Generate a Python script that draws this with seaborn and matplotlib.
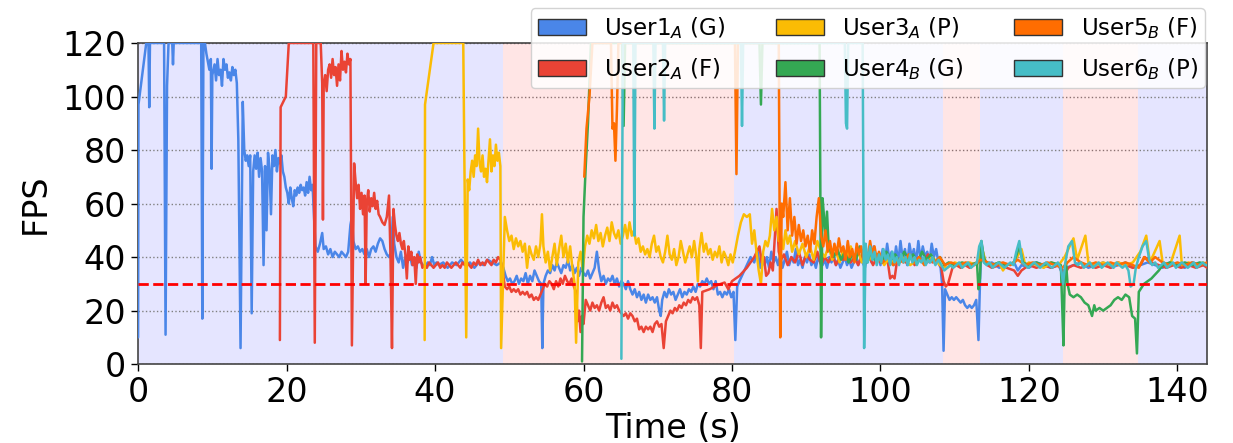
import numpy as np
import pandas as pd
import matplotlib
matplotlib.use("Agg")
import matplotlib.pyplot as plt
from matplotlib.patches import Patch
import seaborn as sns

# ---------------- data (time s, FPS) ----------------
USER1 = [(0.0,10),(0.05,97),(1.1,120),(1.4,120),(1.5,96),(1.6,120),(3.5,120),(3.7,11),(3.9,104),(4.1,120),
 (4.6,120),(4.7,112),(4.8,120),(8.5,120),(8.65,17),(8.8,120),(9.0,120),(9.2,116),(9.4,113),(9.6,110),(9.8,114),
 (9.9,73),(10.0,108),(10.3,112),(10.5,106),(10.7,114),(10.9,108),(11.1,110),(11.3,104),(11.5,114),(11.7,110),
 (11.9,112),(12.1,107),(12.3,109),(12.5,106),(12.7,111),(12.9,108),(13.1,110),(13.3,105),(13.5,84),(13.8,6),
 (14.1,98),(14.3,80),(14.5,76),(14.7,78),(14.9,74),(15.1,78),(15.3,19),(15.5,72),(15.7,78),(15.9,73),(16.1,79),
 (16.3,70),(16.5,77),(16.7,72),(16.9,37),(17.1,74),(17.3,50),(17.5,79),(17.7,73),(17.9,56),(18.1,78),(18.3,74),
 (18.5,80),(18.7,72),(18.9,77),(19.1,75),(19.3,78),(19.5,72),(19.7,70),(19.9,66),(20.1,64),(20.3,60),(20.5,66),
 (20.7,62),(20.9,59),(21.1,65),(21.3,63),(21.5,66),(21.7,64),(21.9,67),(22.1,65),(22.3,66),(22.5,63),(22.7,68),
 (22.9,64),(23.1,70),(23.3,65),(23.5,67),(23.7,55),(23.9,44),(24.2,42),(24.5,45),(24.8,49),(25.0,43),(25.3,44),
 (25.6,41),(25.9,43),(26.2,40),(26.5,42),(26.8,41),(27.1,40),(27.4,42),(27.7,41),(28.0,40),(28.3,42),(28.6,52),
 (28.8,55),(29.0,46),(29.3,43),(29.6,44),(29.9,42),(30.2,43),(30.5,41),(30.8,43),(31.1,40),(31.4,43),(31.7,44),
 (32.0,42),(32.3,45),(32.6,47),(32.9,46),(33.2,43),(33.5,41),(33.8,40),(34.1,42),(34.3,55),(34.5,45),(34.8,40),
 (35.1,38),(35.4,42),(35.7,36),(36.0,40),(36.3,38),(36.6,41),(36.9,37),(37.2,39),(37.5,36),(37.8,42),(38.1,38),
 (38.4,37),(38.7,36),(39.0,38),(39.3,37),(39.6,40),(39.9,37),(40.2,38),(40.5,37),(41.1,38),(41.7,36),(42.3,38),
 (42.9,37),(43.5,39),(44.1,37),(44.7,38),(45.3,36),(45.9,38),(46.5,37),(47.1,39),(47.7,38),(48.3,37),(48.9,38),
 (49.2,36),(49.5,33),(49.8,31),(50.1,32),(50.4,30),(50.7,31),(51.0,33),(51.3,30),(51.6,32),(51.9,31),(52.2,34),
 (52.5,30),(52.8,33),(53.1,31),(53.4,35),(53.7,33),(54.0,31),(54.3,30),(54.45,6),(54.6,30),(54.9,33),(55.2,35),
 (55.5,34),(55.8,37),(56.1,35),(56.4,38),(56.7,36),(57.0,34),(57.3,37),(57.6,36),(57.9,39),(58.2,35),(58.5,37),
 (58.8,34),(59.1,36),(59.4,33),(59.7,36),(60.0,34),(60.3,33),(60.6,35),(60.9,32),(61.2,34),(61.5,36),(61.8,42),
 (62.1,35),(62.4,31),(62.7,33),(63.0,30),(63.3,32),(63.6,31),(63.9,33),(64.2,30),(64.5,32),(64.8,29),(65.1,31),
 (65.4,30),(65.7,28),(66.0,31),(66.3,28),(66.6,26),(66.9,28),(67.2,25),(67.5,27),(67.8,24),(68.1,26),(68.4,23),
 (68.7,26),(69.0,24),(69.3,25),(69.6,23),(69.9,25),(70.2,20),(70.4,18),(70.6,24),(70.9,27),(71.2,25),(71.5,28),
 (71.8,26),(72.1,27),(72.4,24),(72.7,26),(73.0,28),(73.3,25),(73.6,27),(73.9,26),(74.2,28),(74.5,27),(74.8,29),
 (75.1,27),(75.4,30),(75.7,29),(76.0,31),(76.3,30),(76.6,32),(76.9,30),(77.2,31),(77.5,28),(77.8,31),(78.1,26),
 (78.4,27),(78.7,25),(79.0,27),(79.3,26),(79.6,28),(79.9,25),(80.2,27),(80.45,9),(80.7,29),(81.0,31),(81.5,34),
 (82.0,37),(82.5,40),(83.0,38),(83.4,43),(83.8,36),(84.1,41),(84.4,37),(84.7,40),(85.0,36),(85.3,42),(85.6,38),
 (85.9,40),(86.2,37),(86.5,41),(86.8,36),(87.1,39),(87.4,42),(87.7,37),(88.0,40),(88.3,38),(88.6,43),(88.9,37),
 (89.2,39),(89.5,36),(89.8,40),(90.1,38),(90.4,41),(90.7,37),(91.0,39),(91.3,36),(91.6,40),(91.9,38),(92.2,37),
 (92.5,39),(92.8,36),(93.1,40),(93.4,38),(93.7,41),(94.0,37),(94.3,39),(94.6,36),(94.9,38),(95.2,40),(95.5,37),
 (95.8,39),(96.1,36),(96.4,38),(96.7,41),(97.0,37),(97.3,39),(97.6,38),(97.9,36),(98.2,40),(98.5,42),(98.8,38),
 (99.1,44),(99.4,39),(99.7,41),(100.0,37),(100.3,43),(100.6,38),(100.9,45),(101.2,39),(101.5,42),(101.8,37),
 (102.1,44),(102.4,38),(102.7,46),(103.0,39),(103.3,43),(103.6,37),(103.9,45),(104.2,40),(104.5,43),(104.8,38),
 (105.1,46),(105.4,39),(105.7,44),(106.0,40),(106.3,42),(106.6,38),(106.9,45),(107.2,40),(107.5,43),(107.8,38),
 (108.1,36),(108.3,30),(108.5,5),(108.7,28),(109.0,26),(109.3,24),(109.6,25),(109.9,24),(110.2,25),(110.5,24),
 (110.8,23),(111.1,24),(111.4,22),(111.7,21),(112.0,22),(112.3,21),(112.6,22),(112.9,24),(113.2,9),(113.4,30),
 (113.6,45),(113.8,42),(114.1,38),(114.4,37),(115,38),(116,36),(117,37),(118,38),(118.5,35),(119,37),(120,36),
 (121,38),(122,37),(123,36),(124,37),(124.6,33),(125,36),(126,37),(127,38),(128,36),(129,37),(130,38),(131,36),
 (132,37),(133,38),(134,36),(135,37),(136,38),(137,37),(138,36),(139,38),(140,37),(141,36),(142,38),(143,37),(144,37)]

USER2 = [(19.1,9),(19.2,96),(19.9,100),(20.3,120),(23.6,120),(23.8,8),(24.0,120),(24.6,120),(24.8,105),(24.9,54),
 (25.0,104),(25.2,108),(25.4,102),(25.6,110),(25.8,112),(26.0,107),(26.2,114),(26.4,108),(26.6,111),(26.8,104),
 (27.0,112),(27.2,106),(27.4,117),(27.6,110),(27.8,113),(28.0,109),(28.2,116),(28.4,112),(28.6,114),(28.8,7),
 (29.1,75),(29.3,68),(29.5,62),(29.7,67),(29.9,58),(30.1,64),(30.3,56),(30.5,63),(30.65,30),(30.8,60),(31.0,65),
 (31.2,57),(31.4,62),(31.6,59),(31.8,64),(32.0,58),(32.2,61),(32.4,56),(32.6,55),(32.9,53),(33.2,52),(33.5,55),
 (33.8,63),(34.0,40),(34.2,6),(34.4,58),(34.6,52),(34.8,48),(35.0,46),(35.2,49),(35.4,45),(35.6,43),(35.8,46),
 (36.0,41),(36.2,32),(36.4,44),(36.6,39),(36.8,42),(37.0,37),(37.2,40),(37.4,30),(37.6,41),(37.8,38),(38.0,40),
 (38.3,36),(38.6,37),(38.9,36),(39.2,38),(39.5,37),(39.8,36),(40.1,37),(40.4,38),(40.7,36),(41.0,37),(41.3,36),
 (41.6,38),(41.9,37),(42.2,36),(42.5,37),(42.8,38),(43.1,37),(43.4,36),(43.7,38),(44.0,37),(44.3,38),(44.6,37),
 (44.9,36),(45.2,38),(45.5,37),(45.8,39),(46.1,37),(46.4,38),(46.7,37),(47.0,39),(47.3,38),(47.6,37),(47.9,39),
 (48.2,38),(48.5,40),(48.8,39),(49.1,35),(49.4,29),(49.7,28),(50.0,29),(50.3,27),(50.6,28),(50.9,27),(51.2,28),
 (51.5,26),(51.8,27),(52.1,26),(52.4,27),(52.7,25),(53.0,26),(53.3,24),(53.6,25),(53.9,24),(54.2,26),(54.5,28),
 (54.8,30),(55.1,29),(55.4,31),(55.7,30),(56.0,28),(56.3,31),(56.6,29),(56.9,32),(57.2,30),(57.5,33),(57.8,31),
 (58.1,30),(58.4,32),(58.7,29),(59.0,27),(59.2,16),(59.4,20),(59.6,12),(59.8,18),(60.0,15),(60.3,24),(60.6,22),
 (60.9,20),(61.2,23),(61.5,21),(61.8,22),(62.1,20),(62.4,23),(62.7,25),(63.0,21),(63.3,22),(63.6,20),(63.9,23),
 (64.2,21),(64.5,22),(64.8,20),(65.1,19),(65.4,18),(65.7,19),(66.0,17),(66.3,19),(66.6,18),(66.9,16),(67.2,17),
 (67.5,13),(67.8,14),(68.1,12),(68.4,14),(68.7,13),(69.0,14),(69.3,12),(69.6,15),(69.9,16),(70.2,14),(70.5,15),
 (70.8,6),(71.1,16),(71.4,18),(71.7,20),(72.0,19),(72.3,21),(72.6,20),(72.9,22),(73.2,21),(73.5,23),(73.8,22),
 (74.1,24),(74.4,23),(74.7,25),(75.0,24),(75.3,25),(75.6,22),(75.8,6),(76.0,27),(77.0,28),(78.0,29.5),(79.0,30.5),
 (79.5,28),(80.0,31),(80.5,32),(81.0,33),(82.0,36),(83.0,40),(83.7,44),(84.0,38),(84.3,40),(84.6,33),(84.9,34),
 (85.2,38),(85.5,35),(86.0,58),(86.3,42),(86.6,39),(87.0,41),(87.5,37),(88.0,40),(88.5,38),(89.0,42),(89.5,37),
 (90.0,41),(90.5,39),(91.0,38),(91.5,42),(92.0,37),(92.5,40),(93.0,38),(93.5,41),(94.0,37),(94.5,40),(95.0,39),
 (95.5,42),(96.0,38),(96.5,40),(97.0,37),(97.5,41),(98.0,38),(98.5,40),(99.0,37),(99.5,40),(100.0,38),(100.5,39),
 (101.0,38),(101.3,32),(101.6,33),(101.9,32),(102.2,38),(102.8,40),(103.4,38),(104.0,41),(104.6,37),(105.2,40),
 (105.8,38),(106.4,41),(107.0,38),(107.6,39),(108.2,36),(108.5,31),(108.8,29),(109.1,30),(109.4,33),(109.7,36),
 (110.2,37),(110.8,36),(111.4,37),(112.0,36),(112.6,37),(113.2,38),(113.8,40),(114.4,37),(115,36),(116,37),
 (117,36),(118,35),(118.5,33),(119,35),(120,37),(121,36),(122,37),(123,36),(124,37),(124.9,34),(125.3,36),
 (126,37),(127,36),(128,37),(129,36),(130,37),(131,36),(132,38),(133,37),(134,36),(135,37),(135.6,40),(136.5,38),
 (137.5,37),(138.5,36),(139.5,37),(140.5,36),(141.5,37),(142.5,36),(143.5,37),(144,36)]

USER3 = [(38.6,9),(38.65,97),(39.8,120),(43.8,120),(43.95,76),(44.2,10),(44.4,69),(44.6,65),(44.8,72),(45.0,76),
 (45.2,70),(45.4,78),(45.6,74),(45.8,88),(46.0,75),(46.2,72),(46.4,78),(46.6,70),(46.8,73),(47.0,68),(47.2,76),
 (47.4,84),(47.6,72),(47.8,78),(48.0,74),(48.2,82),(48.4,76),(48.6,79),(48.8,74),(48.9,6),(49.4,55),(49.7,50),
 (50.0,46),(50.3,48),(50.6,43),(50.9,47),(51.2,44),(51.5,46),(51.8,42),(52.1,45),(52.4,36),(52.7,44),(53.0,41),
 (53.3,39),(53.6,44),(53.9,40),(54.2,45),(54.4,56),(54.6,44),(54.9,38),(55.2,42),(55.5,35),(55.8,40),(56.1,45),
 (56.4,37),(56.7,43),(57.0,48),(57.3,40),(57.6,45),(57.9,38),(58.2,44),(58.5,36),(58.8,30),(59.0,8),(59.3,38),
 (59.6,42),(59.9,35),(60.2,44),(60.5,48),(60.8,45),(61.1,50),(61.4,47),(61.7,52),(62.0,46),(62.3,49),(62.6,44),
 (62.9,48),(63.2,51),(63.5,46),(63.8,53),(64.1,49),(64.4,47),(64.7,50),(65.0,45),(65.3,48),(65.6,52),(65.9,47),
 (66.2,53),(66.5,48),(66.8,50),(67.1,45),(67.4,47),(67.7,42),(68.0,44),(68.3,41),(68.6,43),(68.9,40),(69.2,45),
 (69.5,48),(69.8,42),(70.1,44),(70.4,40),(70.7,38),(71.0,42),(71.3,48),(71.6,41),(71.9,39),(72.2,43),(72.5,37),
 (72.8,40),(73.1,46),(73.4,42),(73.7,38),(74.0,41),(74.3,44),(74.6,40),(74.9,46),(75.2,40),(75.4,31),(75.6,43),
 (75.9,49),(76.2,42),(76.5,45),(76.8,41),(77.1,43),(77.4,39),(77.7,42),(78.0,40),(78.3,44),(78.6,38),(78.9,42),
 (79.2,40),(79.5,37),(79.8,41),(80.1,38),(80.4,42),(80.8,48),(81.2,53),(81.6,56),(82.0,55),(82.4,56),(82.7,45),
 (83.0,50),(83.3,42),(83.6,35),(83.9,30),(84.2,42),(84.5,46),(84.8,44),(85.1,48),(85.4,58),(85.7,50),(86.0,55),
 (86.3,46),(86.6,48),(86.9,43),(87.2,50),(87.5,45),(87.8,48),(88.1,42),(88.5,46),(89.0,41),(89.5,45),(90.0,40),
 (90.5,44),(91.0,39),(91.5,46),(92.0,42),(92.5,40),(93.0,44),(93.5,39),(94.0,42),(94.5,38),(95.0,43),(95.5,40),
 (96.0,44),(96.5,39),(97.0,42),(97.5,38),(98.0,41),(98.5,39),(99.0,43),(99.5,38),(100.0,40),(100.5,37),(101.0,39),
 (102.0,38),(103.0,40),(104.0,37),(105.0,39),(106.0,38),(107.0,40),(108.0,37),(109.0,36),(110.0,38),(111.0,37),
 (112.0,38),(113.0,37),(113.6,44),(114.2,38),(115,37),(116,38),(116.5,35),(117,37),(118,38),(119,43),(119.5,37),
 (120,38),(121,37),(122,36),(123,38),(124,37),(124.8,40),(126.0,47),(126.5,39),(127.6,48),(128.0,38),(129,37),
 (130,38),(131,37),(132,38),(133,37),(134,38),(135.0,42),(135.8,48),(136.3,38),(137.6,46),(138.0,38),(139,37),
 (140.3,48),(140.6,37),(141.5,38),(142.5,37),(143.5,38),(144,37)]

USER4 = [(59.8,1),(60.0,55),(60.3,74),(60.6,90),(61.0,120),(65.2,120),(65.4,89),(65.6,120),(83.7,120),(83.9,97),
 (84.1,120),(91.8,120),(92.0,10),(92.2,62),(92.4,55),(92.6,48),(92.8,57),(93.0,45),(93.3,42),(93.7,40),(94.2,43),
 (94.7,39),(95.2,42),(95.7,38),(96.2,41),(96.7,39),(97.2,44),(97.7,40),(98.2,38),(98.7,42),(99.2,39),(99.7,41),
 (100.2,38),(100.8,42),(101.4,39),(102.0,41),(102.6,38),(103.2,42),(103.8,39),(104.4,41),(105.0,38),(105.6,42),
 (106.2,39),(106.8,41),(107.4,38),(108.0,40),(108.6,37),(109.2,38),(110.0,37),(111.0,38),(112.0,37),(113.0,38),
 (113.2,28),(113.4,32),(113.6,46),(113.9,40),(114.2,38),(115,37),(116,38),(117,37),(118,38),(118.7,44),(119.2,38),
 (120,37),(121,38),(122,37),(123,38),(124.3,37),(124.5,20),(124.65,7),(124.8,30),(125.0,38),(125.2,30),(125.5,26),
 (126.0,25),(126.5,26),(127.0,25),(127.5,23),(128.0,22),(128.5,18),(128.8,22),(129.0,20),(129.5,21),(130.0,20),
 (130.5,21),(131.0,22),(131.5,24),(132.0,25),(132.5,24),(133.0,26),(133.5,25),(133.9,18),(134.3,17),(134.55,4),
 (134.8,27),(135.5,30),(136.5,32),(137.5,35),(138.0,37),(139,38),(140,37),(141,38),(142,37),(143,38),(144,37)]

USER5 = [(60.1,70),(60.4,88),(60.8,100),(61.2,120),(63.7,120),(63.9,88),(64.1,90),(64.3,76),(64.5,95),(64.7,120),
 (80.4,120),(80.6,71),(80.8,120),(86.3,120),(86.5,10),(86.7,60),(86.9,55),(87.2,68),(87.5,50),(87.8,62),(88.1,48),
 (88.4,55),(88.7,45),(89.0,52),(89.3,46),(89.6,50),(89.9,44),(90.2,48),(90.5,42),(90.8,50),(91.1,45),(91.4,55),
 (91.7,62),(92.0,48),(92.3,44),(92.6,50),(92.9,42),(93.2,46),(93.5,40),(93.8,45),(94.1,41),(94.4,47),(94.7,42),
 (95.0,44),(95.3,39),(95.6,46),(95.9,40),(96.2,43),(96.5,38),(96.8,45),(97.1,41),(97.4,44),(97.7,39),(98.0,42),
 (98.3,40),(98.6,46),(98.9,41),(99.2,44),(99.5,39),(99.8,42),(100.3,38),(101.0,40),(101.7,37),(102.4,39),(103.1,38),
 (103.8,41),(104.5,38),(105.2,40),(105.9,37),(106.6,39),(107.3,38),(108.0,40),(108.7,37),(109.5,38),(110.5,37),
 (111.5,38),(112.5,37),(113.5,39),(114.5,38),(115.5,37),(116.5,38),(117.5,37),(118.5,39),(119.5,37),(120.5,38),
 (121.5,37),(122.5,38),(123.5,37),(124.5,36),(125.2,38),(126.0,40),(127.0,38),(128.0,37),(129.0,38),(130.0,37),
 (131.0,38),(132.0,37),(133.0,38),(134.0,37),(134.8,36),(135.5,40),(136.3,38),(137.0,40),(138.0,38),(139.0,37),
 (140.0,38),(141.0,37),(142.0,38),(143.0,37),(144.0,38)]

USER6 = [(65.1,2),(65.3,120),(66.7,120),(66.85,48),(67.0,120),(69.4,120),(69.55,88),(69.7,120),(70.7,120),
 (70.85,91),(71.0,120),(81.2,120),(81.35,89),(81.5,120),(95.2,120),(95.35,90),(95.5,88),(95.65,120),(97.6,120),
 (97.8,6),(98.0,45),(98.3,38),(98.6,44),(98.9,39),(99.2,42),(99.5,37),(99.8,41),(100.1,38),(100.4,43),(100.7,39),
 (101.0,41),(101.3,37),(101.6,42),(101.9,38),(102.2,40),(102.5,37),(102.8,41),(103.1,38),(103.4,40),(103.7,37),
 (104.0,41),(104.3,38),(104.6,40),(104.9,37),(105.2,39),(105.5,38),(105.8,40),(106.1,37),(106.4,39),(106.7,38),
 (107.0,40),(107.4,37),(107.8,39),(108.2,37),(108.6,35),(109.0,36),(109.4,37),(109.8,36),(110.2,37),(110.6,38),
 (111.0,36),(111.4,37),(111.8,38),(112.2,36),(112.6,37),(113.0,38),(113.3,44),(113.6,46),(113.9,38),(114.3,37),
 (114.7,38),(115.1,36),(115.5,37),(115.9,38),(116.3,37),(116.7,36),(117.1,37),(117.5,38),(117.9,37),(118.3,42),
 (118.7,46),(119.1,38),(119.5,37),(119.9,36),(120.3,37),(120.7,38),(121.1,37),(121.5,36),(121.9,37),(122.3,38),
 (122.7,37),(123.1,36),(123.5,37),(123.9,38),(124.3,36),(124.6,30),(124.9,38),(125.3,44),(125.8,46),(126.2,38),
 (126.6,37),(127.0,38),(127.4,36),(127.8,37),(128.2,38),(128.6,36),(129.0,37),(129.4,38),(129.8,36),(130.2,37),
 (130.6,38),(131.0,37),(131.4,36),(131.8,38),(132.2,37),(132.6,36),(133.0,37),(133.4,35),(133.7,29),(134.1,30),
 (134.4,36),(134.8,40),(135.3,44),(135.8,46),(136.2,39),(136.6,37),(137.0,38),(137.4,36),(137.8,37),(138.2,38),
 (138.6,36),(139.0,37),(139.4,38),(139.8,36),(140.2,37),(140.6,38),(141.0,37),(141.4,36),(141.8,37),(142.2,38),
 (142.6,36),(143.0,37),(143.4,38),(143.8,37),(144.0,37)]

LABELS = ["User1$_A$ (G)", "User2$_A$ (F)", "User3$_A$ (P)",
          "User4$_B$ (G)", "User5$_B$ (F)", "User6$_B$ (P)"]
COLORS = ["#4A86E8", "#EA4335", "#FBBC04", "#34A853", "#FF6D01", "#46BDC6"]
PINK_SPANS = [(49.2, 80.3), (108.4, 113.4), (124.6, 134.7)]
THRESHOLD = 30
XLIM = (0, 144)
YLIM = (0, 120)

# ---------------- build long table ----------------
rows = []
for lab, series in zip(LABELS, [USER1, USER2, USER3, USER4, USER5, USER6]):
    for order, (t, v) in enumerate(series):
        rows.append({"user": lab, "t": t, "fps": v, "order": order})
df = pd.DataFrame(rows)

sns.set_style("ticks")
plt.rcParams["font.family"] = ["DejaVu Sans"]
plt.rcParams["text.color"] = "black"
plt.rcParams["axes.labelcolor"] = "black"

fig = plt.figure(figsize=(12.33, 4.43), dpi=100)
ax = fig.add_axes([0.112, 0.178, 0.867, 0.725])

# background spans
ax.axvspan(XLIM[0], XLIM[1], color="blue", alpha=0.1, lw=0, zorder=0)
for a, b in PINK_SPANS:
    ax.axvspan(a, b, color="white", alpha=1.0, lw=0, zorder=0.5)
    ax.axvspan(a, b, color="red", alpha=0.1, lw=0, zorder=0.6)

sns.lineplot(data=df, x="t", y="fps", hue="user", hue_order=LABELS,
             palette=COLORS, estimator=None, sort=False, lw=1.8,
             legend=False, ax=ax, zorder=2)

ax.axhline(THRESHOLD, color="red", ls="--", lw=2, zorder=3)

ax.set_xlim(*XLIM)
ax.set_ylim(*YLIM)
ax.set_xticks([0, 20, 40, 60, 80, 100, 120, 140])
ax.set_yticks([0, 20, 40, 60, 80, 100, 120])
ax.yaxis.grid(True, linestyle=":", color="gray", lw=1)
for gl in ax.get_ygridlines():
    gl.set_zorder(1)
ax.tick_params(labelsize=24, length=5, width=1, colors="black")
ax.set_xlabel("Time (s)", fontsize=24, labelpad=2, color="black")
ax.set_ylabel("FPS", fontsize=24, labelpad=8, color="black")
for s in ax.spines.values():
    s.set_color("#444444")
    s.set_linewidth(1.2)
    s.set_zorder(1.9)

handles = [Patch(facecolor=c, edgecolor="#333333", lw=1) for c in COLORS]
leg = ax.legend(handles, LABELS, ncol=3, loc="upper right",
                bbox_to_anchor=(0.998, 1.109), borderaxespad=0.0,
                fontsize=16.5, framealpha=0.85,
                handlelength=2.1, handleheight=0.7, columnspacing=2.2,
                labelspacing=0.65, borderpad=0.3)
leg.set_zorder(5)

fig.savefig("out.png", dpi=100)
